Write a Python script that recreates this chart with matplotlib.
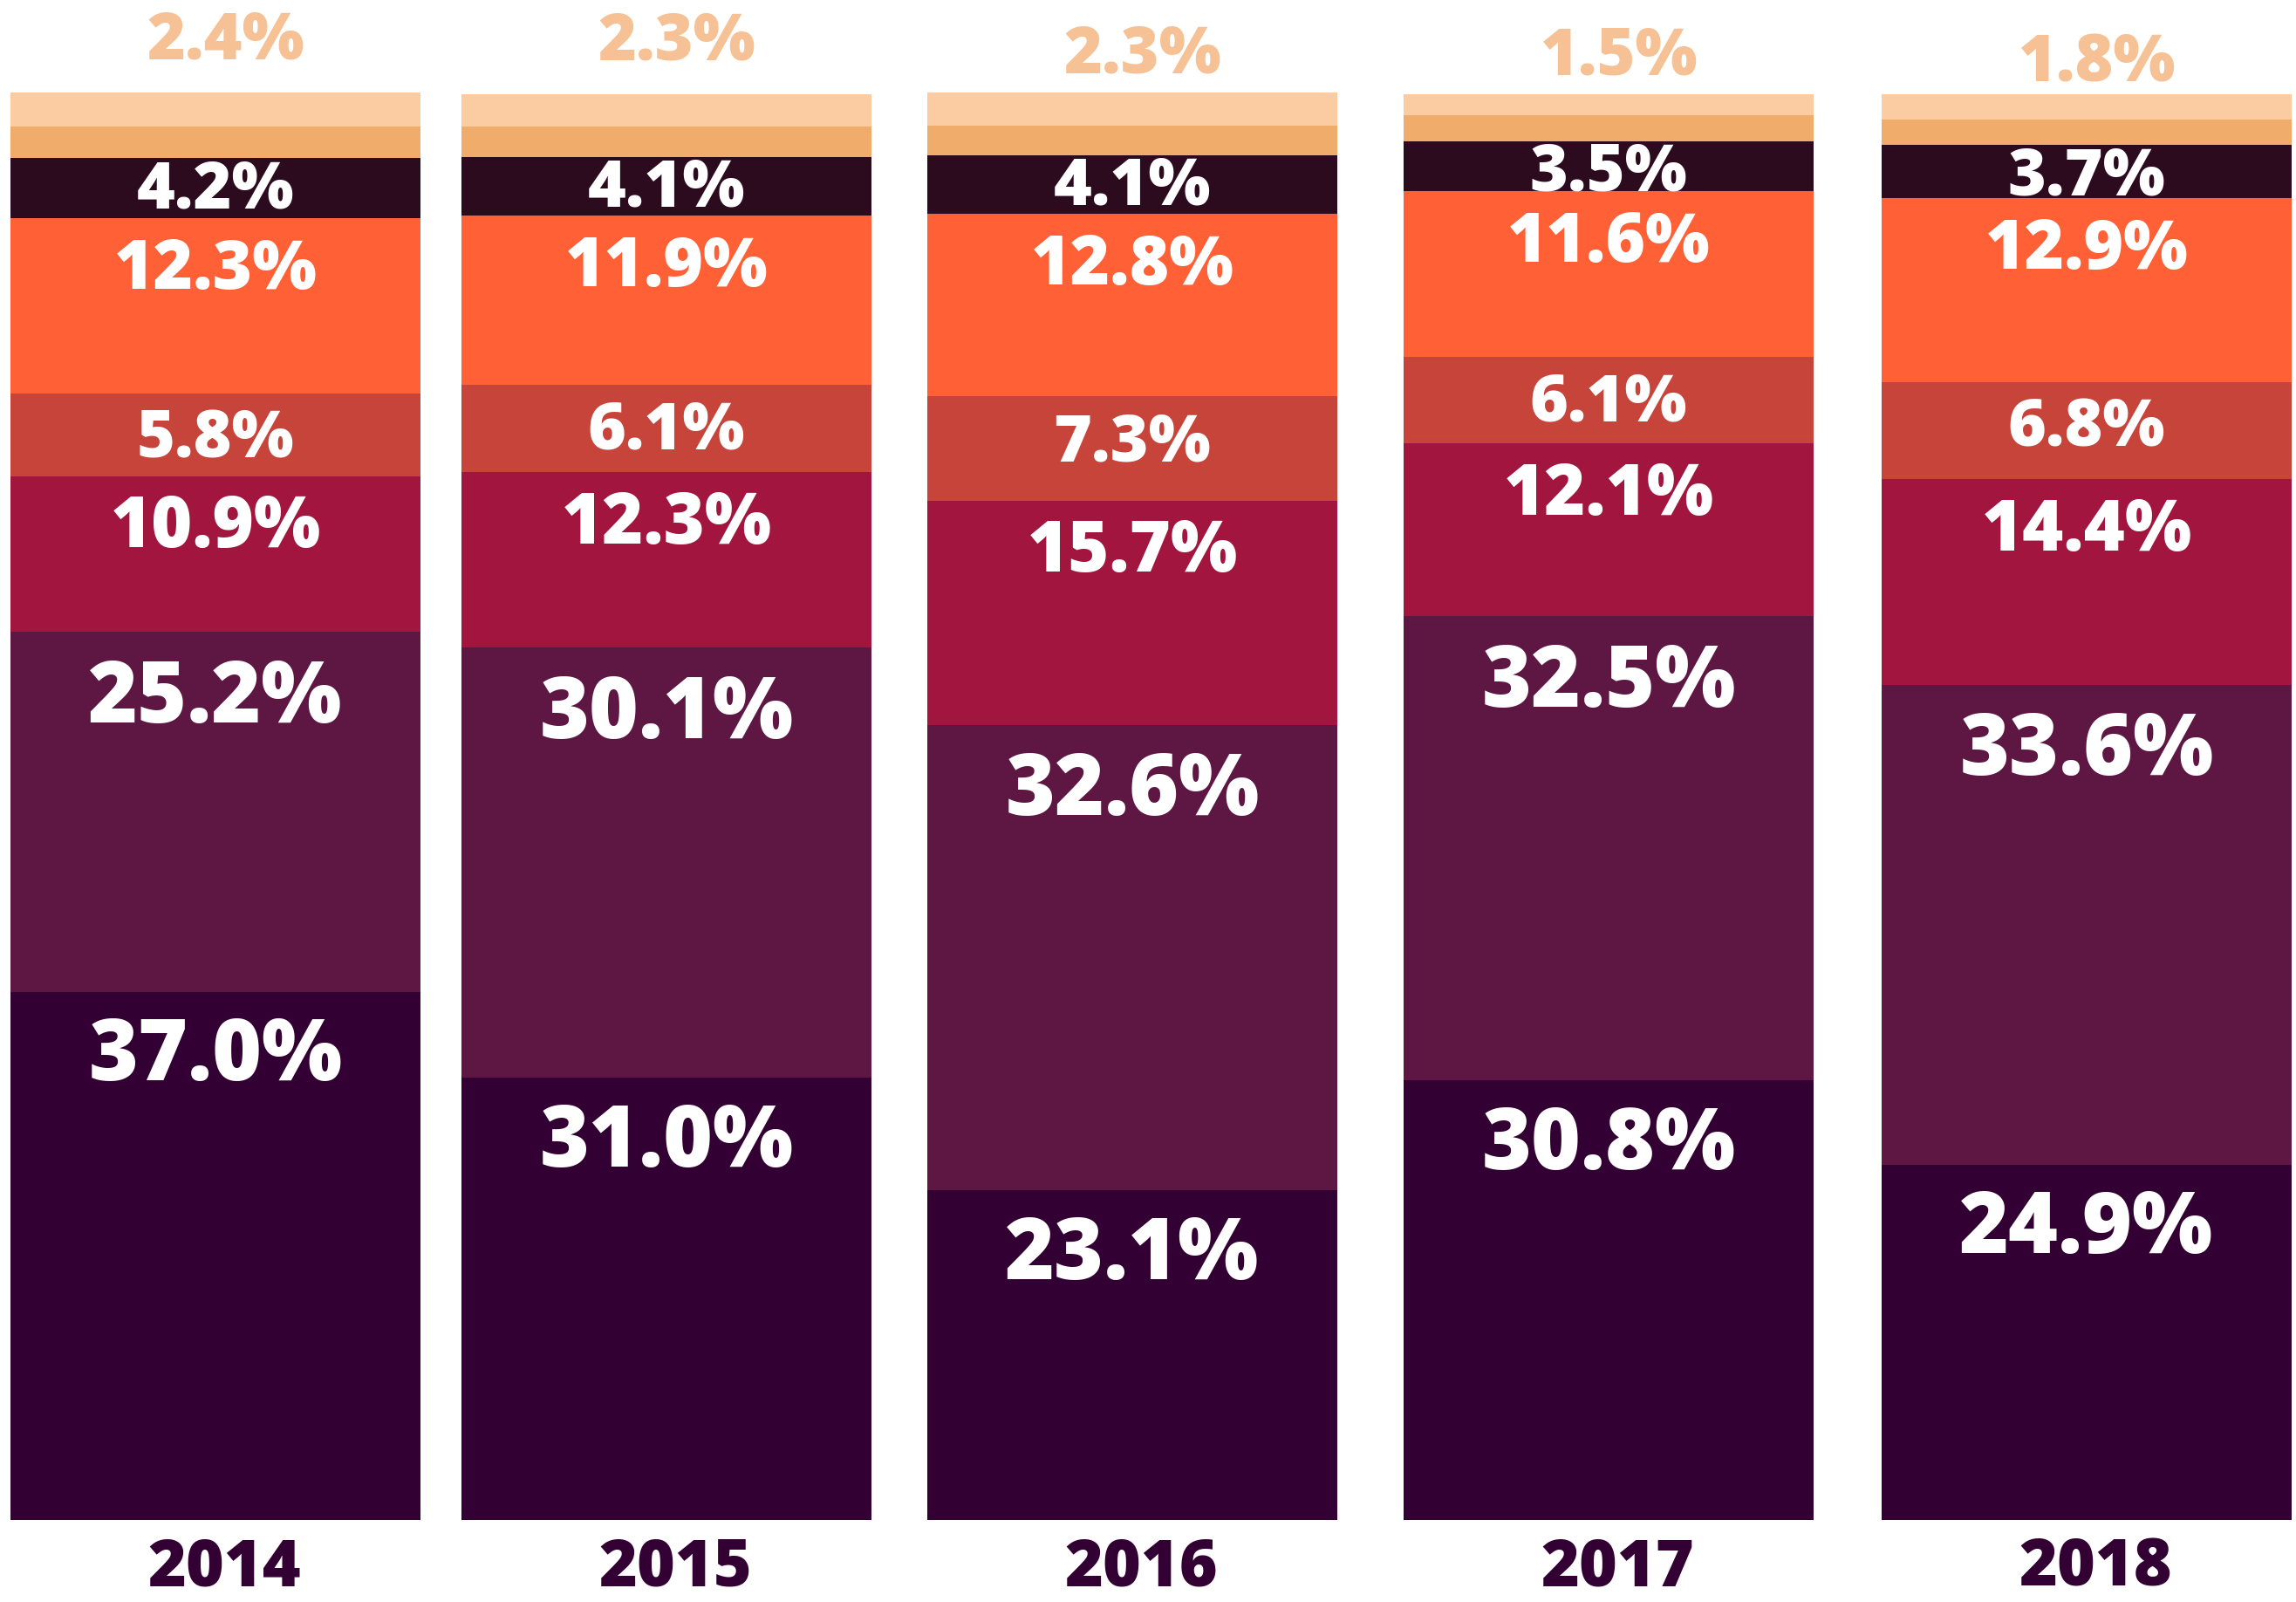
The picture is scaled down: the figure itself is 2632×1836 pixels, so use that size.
import matplotlib.pyplot as plt
from matplotlib import font_manager

years = ["2014", "2015", "2016", "2017", "2018"]

# shares per layer, bottom to top
layer1 = [37.0, 31.0, 23.1, 30.8, 24.9]
layer2 = [25.2, 30.1, 32.6, 32.5, 33.6]
layer3 = [10.9, 12.3, 15.7, 12.1, 14.4]
layer4 = [5.8, 6.1, 7.3, 6.1, 6.8]
layer5 = [12.3, 11.9, 12.8, 11.6, 12.9]
layer6 = [4.2, 4.1, 4.1, 3.5, 3.7]
layer7 = [2.2, 2.1, 2.1, 1.8, 1.8]   # unlabelled
layer8 = [2.4, 2.3, 2.3, 1.5, 1.8]   # labelled above the bar

layers = [layer1, layer2, layer3, layer4, layer5, layer6, layer7, layer8]
colors = ["#330033", "#5e1742", "#a1153e", "#c7443b", "#ff6035",
          "#2d0b1f", "#efac6a", "#fbcba2"]

# --- layout (pixel units, figure is 2632 px wide) ---
centers = [247, 764, 1298, 1844, 2392]
bar_w = 470
label_sizes = [70, 70, 58, 54, 56, 54]          # pt, per labelled layer
label_pad = [20, 21, 14, 12, 16, 0]             # pt below segment top
top_pad = [15, 15, 3, 3, -3]                    # pt above bar for layer8 label


def heaviest_font():
    """Pick the boldest installed face from a short list of sans families."""
    prefs = ["Montserrat", "Open Sans", "Lato", "Roboto", "Inter"]
    wmap = {"bold": 700, "heavy": 800, "extra bold": 800, "black": 900,
            "semibold": 600, "normal": 400, "regular": 400}

    def w(f):
        return f.weight if isinstance(f.weight, int) else wmap.get(str(f.weight).lower(), 400)

    best = None
    for fam in prefs:
        faces = [f for f in font_manager.fontManager.ttflist
                 if f.name == fam and f.style == "normal"]
        if not faces:
            continue
        top = max(faces, key=w)
        if w(top) >= 800:
            return font_manager.FontProperties(fname=top.fname)
        if best is None:
            best = top
    if best is not None:
        return font_manager.FontProperties(fname=best.fname)
    return font_manager.FontProperties(family="DejaVu Sans", weight="bold")


FP = heaviest_font()

fig = plt.figure(figsize=(26.32, 18.36), dpi=100)
ax = fig.add_axes([0, 0.0512, 1, 0.8911])
ax.set_xlim(0, 2632)
ax.set_ylim(0, 100)
for s in ax.spines.values():
    s.set_visible(False)
ax.set_yticks([])

bottom = [0.0] * len(years)
tops = []
for vals, col in zip(layers, colors):
    ax.bar(centers, vals, width=bar_w, bottom=bottom, color=col,
           edgecolor="none", linewidth=0)
    bottom = [b + v for b, v in zip(bottom, vals)]
    tops.append(list(bottom))

# in-bar labels, anchored just below each segment's top
for li in range(6):
    for i, x in enumerate(centers):
        ax.annotate(f"{layers[li][i]:.1f}%", (x, tops[li][i]),
                    xytext=(0, -label_pad[li]), textcoords="offset points",
                    ha="center", va="top", color="white",
                    fontproperties=FP, fontsize=label_sizes[li],
                    annotation_clip=False)

# light top layer label sits above the bar
for i, x in enumerate(centers):
    ax.annotate(f"{layer8[i]:.1f}%", (x + 12, tops[7][i]),
                xytext=(0, top_pad[i]), textcoords="offset points",
                ha="center", va="bottom", color="#f7c196",
                fontproperties=FP, fontsize=54,
                annotation_clip=False)

ax.set_xticks([c + 10 for c in centers])
ax.set_xticklabels(years, fontproperties=FP, fontsize=54, color="#330033")
ax.tick_params(axis="x", length=0, pad=13)

fig.savefig("out.png", dpi=100, facecolor="white")
